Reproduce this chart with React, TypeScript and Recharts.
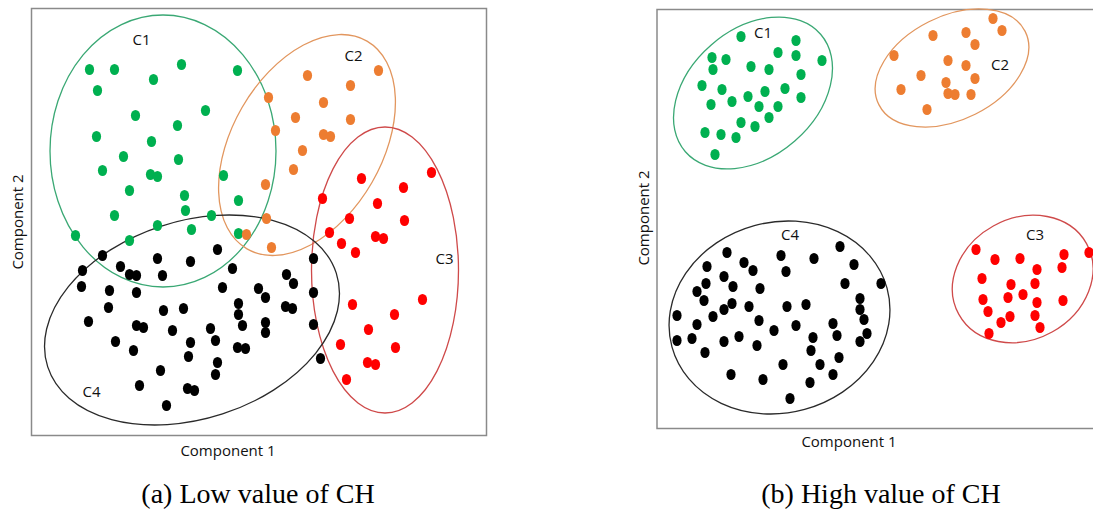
import { ScatterChart, Scatter, XAxis, YAxis, ReferenceArea } from "recharts"

type Pt = { x: number; y: number }
type Cluster = { name: string; x: number; y: number; rx: number; ry: number; angle: number }
type Tag = { name: string; x: number; y: number }

// ---- (a) low value of CH ----
const lowGreen: Pt[] = [
  { x: 58, y: 366 }, { x: 83, y: 366 }, { x: 150, y: 371 }, { x: 206, y: 365 }, { x: 66, y: 345 },
  { x: 122, y: 356 }, { x: 174, y: 325 }, { x: 104, y: 320 }, { x: 146, y: 310 }, { x: 65, y: 299 },
  { x: 120, y: 294 }, { x: 92, y: 279 }, { x: 147, y: 276 }, { x: 71, y: 265 }, { x: 119, y: 261 },
  { x: 126, y: 259 }, { x: 192, y: 260 }, { x: 98, y: 245 }, { x: 153, y: 240 }, { x: 207, y: 235 },
  { x: 154, y: 225 }, { x: 83, y: 220 }, { x: 180, y: 220 }, { x: 44, y: 200 }, { x: 126, y: 210 },
  { x: 160, y: 206 }, { x: 98, y: 195 }, { x: 207, y: 202 },
]
const lowOrange: Pt[] = [
  { x: 347, y: 365 }, { x: 276, y: 360 }, { x: 319, y: 350 }, { x: 292, y: 333 }, { x: 237, y: 338 },
  { x: 264, y: 318 }, { x: 319, y: 316 }, { x: 244, y: 305 }, { x: 292, y: 301 }, { x: 299, y: 299 },
  { x: 271, y: 285 }, { x: 262, y: 266 }, { x: 234, y: 251 }, { x: 235, y: 217 }, { x: 215, y: 201 },
  { x: 240, y: 188 },
]
const lowRed: Pt[] = [
  { x: 400, y: 263 }, { x: 330, y: 257 }, { x: 372, y: 248 }, { x: 291, y: 237 }, { x: 346, y: 232 },
  { x: 318, y: 217 }, { x: 373, y: 215 }, { x: 298, y: 203 }, { x: 310, y: 192 }, { x: 324, y: 183 },
  { x: 344, y: 199 }, { x: 352, y: 197 }, { x: 321, y: 131 }, { x: 391, y: 136 }, { x: 363, y: 121 },
  { x: 337, y: 106 }, { x: 309, y: 91 }, { x: 364, y: 88 }, { x: 336, y: 73 }, { x: 344, y: 71 },
  { x: 315, y: 56 },
]
const lowBlack: Pt[] = [
  { x: 71, y: 180 }, { x: 51, y: 165 }, { x: 89, y: 169 }, { x: 98, y: 161 }, { x: 105, y: 160 },
  { x: 126, y: 177 }, { x: 131, y: 160 }, { x: 159, y: 174 }, { x: 186, y: 186 }, { x: 201, y: 167 },
  { x: 50, y: 149 }, { x: 78, y: 145 }, { x: 105, y: 143 }, { x: 191, y: 148 }, { x: 227, y: 147 },
  { x: 77, y: 128 }, { x: 132, y: 125 }, { x: 152, y: 127 }, { x: 207, y: 132 }, { x: 207, y: 121 },
  { x: 57, y: 114 }, { x: 105, y: 110 }, { x: 112, y: 108 }, { x: 141, y: 105 }, { x: 179, y: 107 },
  { x: 211, y: 110 }, { x: 84, y: 94 }, { x: 102, y: 85 }, { x: 159, y: 93 }, { x: 184, y: 95 },
  { x: 157, y: 79 }, { x: 206, y: 88 }, { x: 214, y: 87 }, { x: 186, y: 73 }, { x: 129, y: 65 },
  { x: 184, y: 61 }, { x: 108, y: 50 }, { x: 156, y: 47 }, { x: 163, y: 45 }, { x: 135, y: 30 },
  { x: 282, y: 177 }, { x: 255, y: 161 }, { x: 262, y: 152 }, { x: 234, y: 138 }, { x: 282, y: 143 },
  { x: 254, y: 129 }, { x: 261, y: 127 }, { x: 234, y: 113 }, { x: 234, y: 103 }, { x: 282, y: 111 },
  { x: 289, y: 77 },
]
const lowClusters: Cluster[] = [
  { name: "C1", x: 131.5, y: 284.5, rx: 113, ry: 136, angle: 0 },
  { name: "C2", x: 275.5, y: 290.5, rx: 120, ry: 75, angle: 60 },
  { name: "C3", x: 353.5, y: 165.5, rx: 73.5, ry: 143, angle: 0 },
  { name: "C4", x: 160.5, y: 115.5, rx: 151.7, ry: 98.8, angle: 18 },
]
const lowTags: Tag[] = [
  { name: "C1", x: 110, y: 397 }, { name: "C2", x: 322, y: 381 },
  { name: "C3", x: 413, y: 178 }, { name: "C4", x: 60, y: 45 },
]

// ---- (b) high value of CH ----
const highGreen: Pt[] = [
  { x: 84, y: 392 }, { x: 139, y: 388 }, { x: 55, y: 371 }, { x: 69, y: 369 }, { x: 121, y: 376 },
  { x: 139, y: 373 }, { x: 165, y: 368 }, { x: 56, y: 359 }, { x: 94, y: 362 }, { x: 112, y: 359 },
  { x: 144, y: 354 }, { x: 45, y: 343 }, { x: 65, y: 339 }, { x: 108, y: 337 }, { x: 128, y: 340 },
  { x: 144, y: 331 }, { x: 54, y: 324 }, { x: 75, y: 327 }, { x: 91, y: 332 }, { x: 102, y: 322 },
  { x: 121, y: 322 }, { x: 112, y: 311 }, { x: 84, y: 306 }, { x: 98, y: 302 }, { x: 48, y: 296 },
  { x: 64, y: 294 }, { x: 79, y: 291 }, { x: 58, y: 274 },
]
const highOrange: Pt[] = [
  { x: 336, y: 410 }, { x: 345, y: 398 }, { x: 276, y: 393 }, { x: 309, y: 396 }, { x: 318, y: 384 },
  { x: 237, y: 373 }, { x: 291, y: 368 }, { x: 309, y: 363 }, { x: 264, y: 353 }, { x: 318, y: 350 },
  { x: 289, y: 346 }, { x: 244, y: 339 }, { x: 291, y: 335 }, { x: 298, y: 334 }, { x: 314, y: 334 },
  { x: 270, y: 319 },
]
const highRed: Pt[] = [
  { x: 319, y: 179 }, { x: 338, y: 169 }, { x: 363, y: 170 }, { x: 380, y: 159 }, { x: 407, y: 174 },
  { x: 432, y: 176 }, { x: 405, y: 161 }, { x: 325, y: 150 }, { x: 354, y: 144 }, { x: 378, y: 145 },
  { x: 326, y: 129 }, { x: 351, y: 131 }, { x: 366, y: 134 }, { x: 380, y: 126 }, { x: 406, y: 128 },
  { x: 331, y: 117 }, { x: 344, y: 106 }, { x: 353, y: 112 }, { x: 378, y: 113 }, { x: 383, y: 101 },
  { x: 332, y: 95 },
]
const highBlack: Pt[] = [
  { x: 70, y: 176 }, { x: 124, y: 173 }, { x: 157, y: 170 }, { x: 183, y: 182 }, { x: 50, y: 162 },
  { x: 87, y: 166 }, { x: 96, y: 158 }, { x: 129, y: 157 }, { x: 197, y: 164 }, { x: 49, y: 145 },
  { x: 67, y: 152 }, { x: 76, y: 142 }, { x: 40, y: 137 }, { x: 103, y: 140 }, { x: 188, y: 145 },
  { x: 47, y: 128 }, { x: 75, y: 125 }, { x: 67, y: 119 }, { x: 92, y: 122 }, { x: 130, y: 122 },
  { x: 149, y: 124 }, { x: 203, y: 130 }, { x: 203, y: 119 }, { x: 20, y: 113 }, { x: 56, y: 112 },
  { x: 102, y: 108 }, { x: 207, y: 109 }, { x: 40, y: 104 }, { x: 139, y: 103 }, { x: 117, y: 98 },
  { x: 176, y: 105 }, { x: 20, y: 88 }, { x: 35, y: 90 }, { x: 67, y: 87 }, { x: 82, y: 92 },
  { x: 156, y: 91 }, { x: 180, y: 93 }, { x: 210, y: 95 }, { x: 203, y: 87 }, { x: 48, y: 76 },
  { x: 100, y: 83 }, { x: 154, y: 78 }, { x: 182, y: 71 }, { x: 126, y: 64 }, { x: 163, y: 64 },
  { x: 74, y: 54 }, { x: 106, y: 49 }, { x: 176, y: 54 }, { x: 153, y: 46 }, { x: 133, y: 30 },
  { x: 224, y: 145 },
]
const highClusters: Cluster[] = [
  { name: "C1", x: 96, y: 335.5, rx: 89.6, ry: 63.7, angle: 41 },
  { name: "C2", x: 295, y: 360.5, rx: 81.8, ry: 51.7, angle: 26.6 },
  { name: "C3", x: 365.7, y: 149.5, rx: 73, ry: 60.6, angle: 29 },
  { name: "C4", x: 122.5, y: 111, rx: 111.5, ry: 95.3, angle: 15.3 },
]
const highTags: Tag[] = [
  { name: "C1", x: 106, y: 397 }, { name: "C2", x: 343, y: 365 },
  { name: "C3", x: 378, y: 195 }, { name: "C4", x: 133, y: 195 },
]

const dotColor = { green: "#00b050", orange: "#ed7d31", red: "#ff0000", black: "#000000" }
const ringColor: Record<string, string> = { C1: "#3aa874", C2: "#e2965e", C3: "#cf4a4a", C4: "#2a2a2a" }

const labelFont = "'Open Sans', 'Noto Sans', sans-serif"

function dot(color: string) {
  return (p: any) => <ellipse cx={p.cx} cy={p.cy} rx={4.6} ry={5.6} fill={color} />
}

function ring(kx: number, ky: number) {
  return (p: any) => {
    const c = p.payload as Cluster
    return (
      <ellipse
        cx={p.cx}
        cy={p.cy}
        rx={c.rx * kx}
        ry={c.ry * ky}
        transform={`rotate(${-c.angle} ${p.cx} ${p.cy})`}
        fill="none"
        stroke={ringColor[c.name]}
        strokeWidth={1.3}
      />
    )
  }
}

function tag(p: any) {
  return (
    <text x={p.cx} y={p.cy} textAnchor="middle" dominantBaseline="central" fontSize={15} fontFamily={labelFont} fill="#111">
      {p.payload.name}
    </text>
  )
}

interface PanelProps {
  width: number
  height: number
  margin: { top: number; right: number; bottom: number; left: number }
  xMax: number
  yMax: number
  green: Pt[]
  orange: Pt[]
  red: Pt[]
  black: Pt[]
  clusters: Cluster[]
  tags: Tag[]
}

function Panel(props: PanelProps) {
  const { width, height, margin, xMax, yMax } = props
  const kx = (width - margin.left - margin.right) / xMax
  const ky = (height - margin.top - margin.bottom) / yMax
  return (
    <ScatterChart width={width} height={height} margin={margin}>
      <XAxis type="number" dataKey="x" domain={[0, xMax]} hide />
      <YAxis type="number" dataKey="y" domain={[0, yMax]} hide />
      <ReferenceArea x1={0} x2={xMax} y1={0} y2={yMax} fill="none" stroke="#8a8a8a" strokeWidth={1.5} ifOverflow="visible" />
      <Scatter data={props.clusters} shape={ring(kx, ky)} isAnimationActive={false} />
      <Scatter data={props.green} shape={dot(dotColor.green)} isAnimationActive={false} />
      <Scatter data={props.orange} shape={dot(dotColor.orange)} isAnimationActive={false} />
      <Scatter data={props.red} shape={dot(dotColor.red)} isAnimationActive={false} />
      <Scatter data={props.black} shape={dot(dotColor.black)} isAnimationActive={false} />
      <Scatter data={props.tags} shape={tag} isAnimationActive={false} />
    </ScatterChart>
  )
}

const axisTitle: React.CSSProperties = {
  position: "absolute",
  fontFamily: labelFont,
  fontSize: 15,
  color: "#111",
  whiteSpace: "nowrap",
  transform: "translate(-50%, -50%)",
}
const caption: React.CSSProperties = {
  position: "absolute",
  fontFamily: "'Liberation Serif', 'DejaVu Serif', serif",
  fontSize: 28,
  color: "#000",
  whiteSpace: "nowrap",
  transform: "translate(-50%, -50%)",
}

export default function App() {
  return (
    <>
      <style>{"html,body{margin:0;padding:0;overflow:hidden;background:#fff}"}</style>
      <div style={{ position: "relative", width: 1093, height: 514, overflow: "hidden", background: "#fff" }}>
        <div style={{ position: "absolute", left: 0, top: 0 }}>
          <Panel
            width={500}
            height={450}
            margin={{ top: 8.5, left: 31.5, right: 13.5, bottom: 14.5 }}
            xMax={455}
            yMax={427}
            green={lowGreen}
            orange={lowOrange}
            red={lowRed}
            black={lowBlack}
            clusters={lowClusters}
            tags={lowTags}
          />
        </div>
        <div style={{ position: "absolute", left: 640, top: 0, width: 460 }}>
          <Panel
            width={460}
            height={440}
            margin={{ top: 9.5, left: 17, right: 3, bottom: 11.5 }}
            xMax={440}
            yMax={419}
            green={highGreen}
            orange={highOrange}
            red={highRed}
            black={highBlack}
            clusters={highClusters}
            tags={highTags}
          />
        </div>
        <div style={{ ...axisTitle, left: 17, top: 222, transform: "translate(-50%, -50%) rotate(-90deg)" }}>Component 2</div>
        <div style={{ ...axisTitle, left: 643, top: 218, transform: "translate(-50%, -50%) rotate(-90deg)" }}>Component 2</div>
        <div style={{ ...axisTitle, left: 228, top: 450 }}>Component 1</div>
        <div style={{ ...axisTitle, left: 849, top: 441 }}>Component 1</div>
        <div style={{ ...caption, left: 258, top: 494 }}>(a) Low value of CH</div>
        <div style={{ ...caption, left: 881, top: 494 }}>(b) High value of CH</div>
      </div>
    </>
  )
}
